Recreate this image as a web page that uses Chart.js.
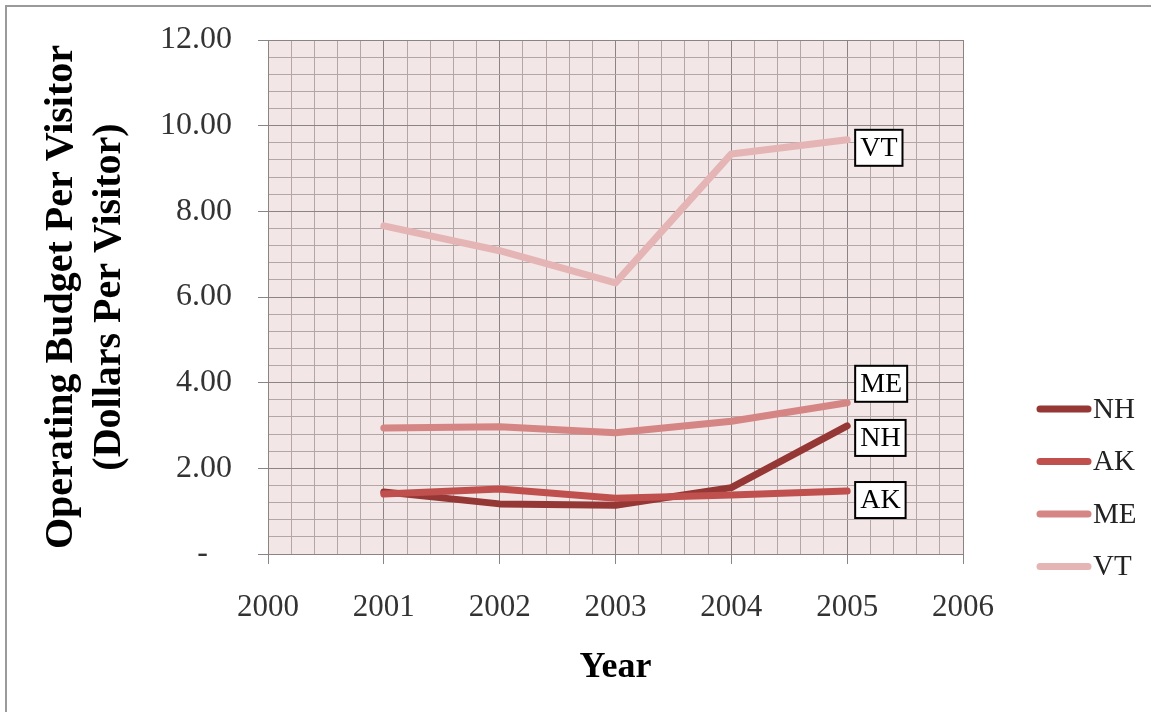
<!DOCTYPE html>
<html lang="en">
<head>
  <meta charset="UTF-8">
  <title>Operating Budget Per Visitor</title>
  <script src="https://cdn.jsdelivr.net/npm/chart.js"></script>
  <style>
    body { margin: 0; background: #fff; }
  </style>
</head>
<body>

<canvas id="budgetChart" width="1151" height="712"></canvas>

<script>
  // values
  const years = [2001, 2002, 2003, 2004, 2005];
  const seriesNames = ['NH', 'AK', 'ME', 'VT'];
  const nhValues = [1.45, 1.17, 1.14, 1.55, 2.99];
  const akValues = [1.40, 1.52, 1.30, 1.38, 1.47];
  const meValues = [2.94, 2.97, 2.83, 3.10, 3.53];
  const vtValues = [7.66, 7.08, 6.33, 9.34, 9.67];

  const colors = ['#953735', '#c0504d', '#d48584', '#e4b5b4'];
  const labelShift = [12, 9, -19, 8];   // vertical nudge of end labels, px

  const serif = "'Liberation Serif', 'Times New Roman', serif";

  function toPoints(vals) {
    return vals.map((v, i) => ({ x: years[i], y: v }));
  }

  function near(v, step) {
    const r = Math.round(v / step);
    return Math.abs(v - r * step) < 1e-6;
  }

  // grey border on the top and left edge, like the original picture
  const frame = {
    id: 'frame',
    beforeDraw(chart) {
      const c = chart.ctx;
      c.save();
      c.fillStyle = '#fff';
      c.fillRect(0, 0, chart.width, chart.height);
      c.strokeStyle = '#9a9a9a';
      c.lineWidth = 2;
      c.beginPath();
      c.moveTo(6, chart.height);
      c.lineTo(6, 6);
      c.lineTo(chart.width, 6);
      c.stroke();
      // pink plot background
      const a = chart.chartArea;
      c.fillStyle = '#f2e6e6';
      c.fillRect(a.left, a.top, a.right - a.left, a.bottom - a.top);
      c.restore();
    }
  };

  // boxed series names at the end of each line
  const endLabels = {
    id: 'endLabels',
    afterDatasetsDraw(chart) {
      const c = chart.ctx;
      c.save();
      c.font = '28px ' + serif;
      c.textBaseline = 'middle';
      chart.data.datasets.forEach((ds, i) => {
        const meta = chart.getDatasetMeta(i);
        const last = meta.data[meta.data.length - 1];
        const w = c.measureText(ds.label).width + 10;
        const h = 36;
        const x = last.x + 8;
        const y = last.y + labelShift[i] - h / 2;
        c.fillStyle = '#fff';
        c.fillRect(x, y, w, h);
        c.strokeStyle = '#000';
        c.lineWidth = 2;
        c.strokeRect(x, y, w, h);
        c.fillStyle = '#000';
        c.textAlign = 'left';
        c.fillText(ds.label, x + 5, y + h / 2 + 1);
      });
      c.restore();
    }
  };

  // legend on the right, lower half
  const sideLegend = {
    id: 'sideLegend',
    afterDraw(chart) {
      const c = chart.ctx;
      c.save();
      c.font = '29px ' + serif;
      c.textBaseline = 'middle';
      c.textAlign = 'left';
      chart.data.datasets.forEach((ds, i) => {
        const y = 409 + i * 52.5;
        c.strokeStyle = ds.borderColor;
        c.lineWidth = 7;
        c.lineCap = 'round';
        c.beginPath();
        c.moveTo(1040, y);
        c.lineTo(1088, y);
        c.stroke();
        c.fillStyle = '#222';
        c.fillText(ds.label, 1093, y + 1);
      });
      c.restore();
    }
  };

  const allValues = [nhValues, akValues, meValues, vtValues];

  const ctx = document.getElementById('budgetChart').getContext('2d');

  const config = {
    type: 'line',
    data: {
      datasets: seriesNames.map((name, i) => ({
        label: name,
        data: toPoints(allValues[i]),
        borderColor: colors[i],
        backgroundColor: colors[i],
        borderWidth: 7,
        borderCapStyle: 'round',
        borderJoinStyle: 'round',
        pointRadius: 0,
        tension: 0,
        order: 4 - i,
      })),
    },
    options: {
      responsive: false,
      animation: false,
      layout: { padding: { left: 0, top: 40, right: 188, bottom: 0 } },
      plugins: {
        legend: { display: false },
        tooltip: { enabled: false },
      },
      scales: {
        x: {
          type: 'linear',
          min: 2000,
          max: 2006,
          afterFit: s => { s.height = 158; },
          ticks: {
            stepSize: 0.2,
            autoSkip: false,
            maxRotation: 0,
            padding: 25,
            color: '#333',
            font: { family: serif, size: 31 },
            callback: v => near(v, 1) ? String(Math.round(v)) : '',
          },
          grid: {
            color: c => near(c.tick.value, 1) ? '#8c8484' : '#b4a6a6',
            tickColor: c => near(c.tick.value, 1) ? '#8c8484' : 'rgba(0,0,0,0)',
            tickLength: 10,
          },
          border: { color: '#8c8484' },
          title: {
            display: true,
            text: 'Year',
            color: '#000',
            padding: { bottom: 23 },
            font: { family: serif, size: 36, weight: 'bold' },
          },
        },
        y: {
          min: 0,
          max: 12,
          afterFit: s => {
            s.width = 268;
            s.paddingTop = 10;
            s.paddingBottom = 10;
          },
          ticks: {
            stepSize: 0.4,
            autoSkip: false,
            padding: 26,
            color: '#333',
            font: { family: serif, size: 32 },
            callback: v => {
              if (!near(v, 2)) return '';
              const r = Math.round(v);
              return r === 0 ? '-   ' : r.toFixed(2);
            },
          },
          grid: {
            color: c => near(c.tick.value, 2) ? '#8c8484' : '#b4a6a6',
            tickColor: c => near(c.tick.value, 2) ? '#8c8484' : 'rgba(0,0,0,0)',
            tickLength: 10,
          },
          border: { color: '#8c8484' },
          title: {
            display: true,
            text: ['Operating Budget Per Visitor', '(Dollars Per Visitor)'],
            color: '#000',
            padding: { top: 38 },
            font: { family: serif, size: 40, weight: 'bold', lineHeight: 1.2 },
          },
        },
      },
    },
    plugins: [frame, endLabels, sideLegend],
  };

  new Chart(ctx, config);
</script>

</body>
</html>
